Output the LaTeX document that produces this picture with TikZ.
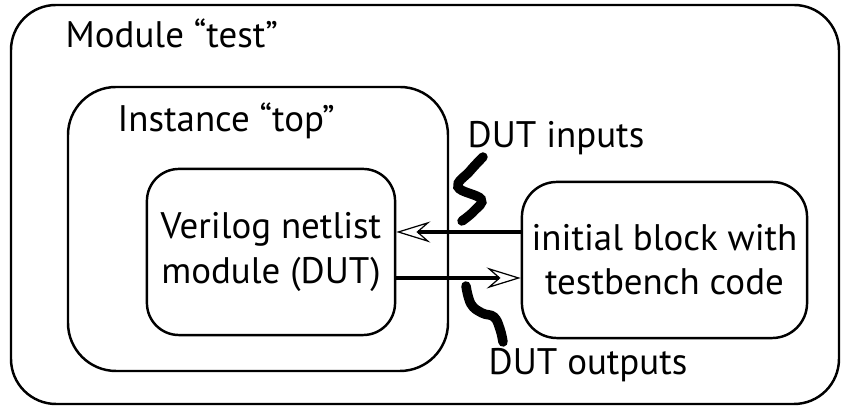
\documentclass[tikz,border=0pt]{standalone}
\usepackage{fontspec}
\setmainfont{PT Sans}
\usepackage{tikz}
\usetikzlibrary{arrows.meta,positioning,calc}
\tikzset{
  outerbox/.style={draw=black,line width=0.7pt,rounded corners=0.45cm},
  instbox/.style={draw=black,line width=0.7pt,rounded corners=0.48cm},
  modbox/.style={draw=black,line width=0.7pt,rounded corners=0.32cm,align=center,inner sep=0pt},
  sigarr/.style={-{Stealth[open,length=3.4mm,width=2.1mm,inset=1.2mm,line width=0.35pt]},line width=0.95pt},
  squig/.style={line width=2.7pt,line cap=round},
  boxtitle/.style={anchor=base west,inner sep=0pt}
}

\begin{document}
\begin{tikzpicture}[
  x=0.01cm,y=-0.01cm,
  font=\fontsize{10.5}{12.6}\selectfont
]
  \useasboundingbox (0,0) rectangle (841,407);

  \draw[outerbox] (11,5) rectangle (839,404);
  \node[boxtitle] (modtitle) at (65,48) {Module “test”};

  \draw[instbox] (68,87) rectangle (448,371);
  \node[boxtitle] (insttitle) at (117,132) {Instance “top”};

  \node[modbox,minimum width=2.48cm,minimum height=1.66cm] (dut) at (271,252)
    {Verilog netlist\\module (DUT)};
  \node[modbox,minimum width=2.85cm,minimum height=1.56cm,rounded corners=0.35cm] (tb) at (664.5,260)
    {initial block with\\testbench code};

  \coordinate (inS) at (tb.west |- 0,232);
  \coordinate (inE) at (dut.east |- 0,232);
  \coordinate (outS) at (dut.east |- 0,278);
  \coordinate (outE) at (tb.west |- 0,278);

  \draw[sigarr] (inS)--(inE);
  \draw[sigarr] (outS)--(outE);

  \draw[squig] plot[smooth,tension=0.7] coordinates {(483,157) (470,171) (458,187) (481,199) (474,211) (462,221)};
  \draw[squig] plot[smooth,tension=0.7] coordinates {(466,286) (471,304) (482,313) (494,317) (500,329) (503,342)};

  \node[boxtitle] (inlab) at (467,148) {DUT inputs};
  \node[boxtitle] (outlab) at (488,375) {DUT outputs};
\end{tikzpicture}
\end{document}
